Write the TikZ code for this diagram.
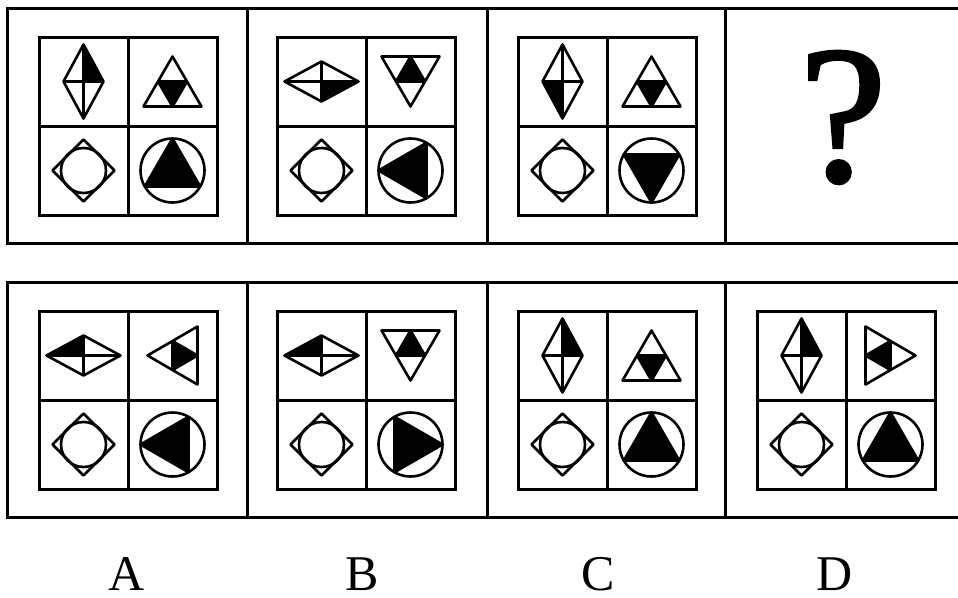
\documentclass[tikz,border=0pt]{standalone}
\usepackage{fontspec}
\setmainfont{Liberation Serif}
\newfontfamily\interro[FakeBold=1.6]{Liberation Serif}
\usepackage{tikz}

% un panneau : centre #1,#2 ; rotation du losange #3, du triangle #4, du disque #5
\newcommand{\panneau}[5]{%
    \begin{scope}[shift={(#1,#2)}]
        \draw[grille] (-89,-89) rectangle (89,89);
        \draw[grille] (0,-89) -- (0,89) (-89,0) -- (89,0);
        \begin{scope}[shift={(-44.5,-44.5)},rotate=#3]%losange
            \fill (0,-37) -- (20,0) -- (0,0) -- cycle;
            \draw[forme] (0,-37) -- (20,0) -- (0,37) -- (-20,0) -- cycle
                (0,-37) -- (0,37) (-20,0) -- (20,0);
        \end{scope}
        \begin{scope}[shift={(44.5,-44.5)},rotate=#4]%triangle
            \fill (-14.5,0) -- (14.5,0) -- (0,25) -- cycle;
            \draw[forme] (0,-25) -- (29,25) -- (-29,25) -- cycle
                (-14.5,0) -- (14.5,0) -- (0,25) -- cycle;
        \end{scope}
        \begin{scope}[shift={(-44.5,44.5)}]%carre et cercle
            \draw[forme] (0,-31) -- (31,0) -- (0,31) -- (-31,0) -- cycle;
            \draw[forme] (0,0) circle (22.5);
        \end{scope}
        \begin{scope}[shift={(44.5,44.5)},rotate=#5]%disque
            \draw[forme] (0,0) circle (32);
            \filldraw[forme] (0,-32) -- (27.7,16) -- (-27.7,16) -- cycle;
        \end{scope}
    \end{scope}}

\begin{document}
\begin{tikzpicture}[x=1pt,y=-1pt,
        bord/.style={line width=3pt},%cadres exterieurs
        grille/.style={line width=3pt},%grilles 2x2
        forme/.style={line width=2.6pt, line join=round},%figures
        lettre/.style={font=\fontsize{50}{50}\selectfont, anchor=base, inner sep=0pt, text depth=0pt}]
    \useasboundingbox (0,0) rectangle (958,597);

    % rangee du haut
    \draw[bord] (958,8) -- (7,8) -- (7,243) -- (958,243);
    \foreach \x in {247,487,725}
        \draw[bord] (\x,8) -- (\x,243);
    \panneau{128}{126}{0}{0}{0}
    \panneau{366}{126}{-90}{180}{90}
    \panneau{607}{126}{180}{0}{180}
    \node[font=\interro\fontsize{196}{196}\selectfont, anchor=base, inner sep=0pt, text depth=0pt] (question) at (843,181) {?};

    % rangee du bas
    \draw[bord] (958,282) -- (7,282) -- (7,517) -- (958,517);
    \foreach \x in {247,487,725}
        \draw[bord] (\x,282) -- (\x,517);
    \panneau{128}{400}{90}{90}{90}
    \panneau{366}{400}{90}{180}{-90}
    \panneau{607}{400}{0}{0}{0}
    \panneau{846}{400}{0}{-90}{0}

    % lettres
    \foreach \l/\x in {A/127,B/362,C/598,D/835}
        \node[lettre] (rep\l) at (\x,590) {\l};
\end{tikzpicture}
\end{document}
